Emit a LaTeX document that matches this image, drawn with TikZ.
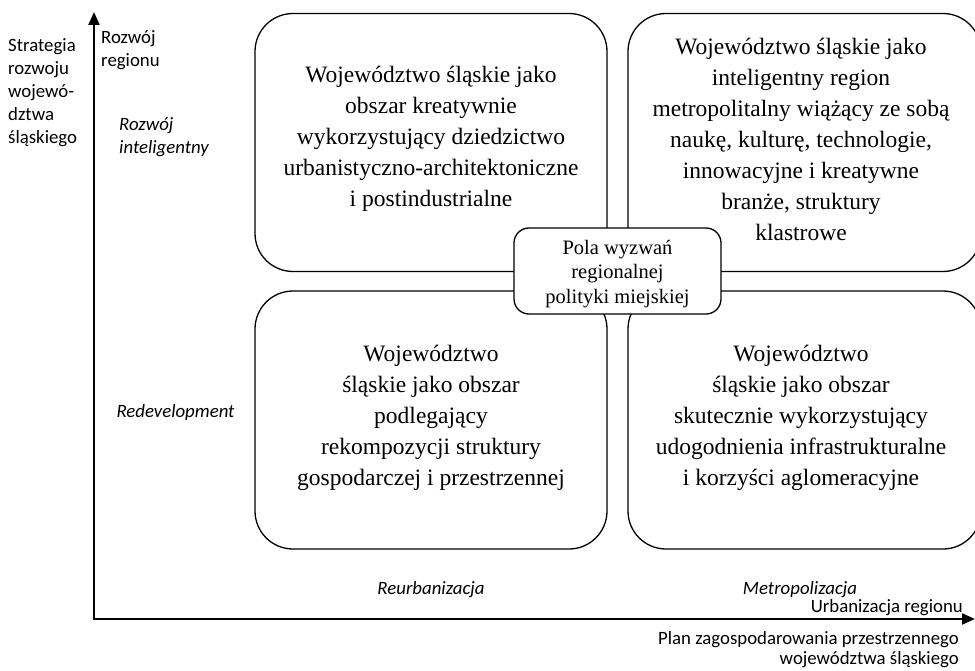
\documentclass[tikz,border=0pt]{standalone}
\usepackage{fontspec}
\setmainfont{Liberation Serif}
\newfontfamily\calfont{Carlito}
\usetikzlibrary{arrows.meta}
\begin{document}
\begin{tikzpicture}[x=1pt,y=-1pt,
  bigbox/.style={draw, line width=1.3pt, rounded corners=38pt, minimum width=352pt, minimum height=258pt, inner sep=0pt},
  boxtext/.style={align=center, font=\fontsize{23.5}{31}\selectfont, inner sep=0pt},
  midbox/.style={draw, fill=white, line width=1.3pt, rounded corners=15pt, minimum width=207pt, minimum height=86pt, inner sep=0pt},
  midtext/.style={align=center, inner sep=0pt, font=\fontsize{20.5}{24.5}\selectfont},
  sans/.style={font=\calfont\fontsize{18.8}{23}\selectfont, inner sep=0pt},
  sansit/.style={font=\calfont\itshape\fontsize{18.8}{23}\selectfont, inner sep=0pt},
  axis/.style={line width=2.2pt, {Triangle[length=13pt,width=11pt]}-{Triangle[length=13pt,width=11pt]}}]
\useasboundingbox (0,0) rectangle (975,671);
\begin{scope}
\clip (0,0) rectangle (975,671);
\node[bigbox] (tl) at (431,142.5) {};
\node[bigbox, minimum width=353pt] (tr) at (804.5,142.5) {};
\node[bigbox] (bl) at (431,420) {};
\node[bigbox, minimum width=353pt] (br) at (804.5,420) {};
\end{scope}
\node[midbox] (mid) at (617.5,271) {};
\node[midtext] (midtxt) at (617.5,274) {Pola wyzwań\\regionalnej\\polityki miejskiej};

\node[boxtext] (tltext) at (431,139) {Województwo śląskie jako\\obszar kreatywnie\\wykorzystujący dziedzictwo\\urbanistyczno-architektoniczne\\i postindustrialne};
\node[boxtext] (trtext) at (801,139.5) {Województwo śląskie jako\\inteligentny region\\metropolitalny wiążący ze sobą\\naukę, kulturę, technologie,\\innowacyjne i kreatywne\\branże, struktury\\klastrowe};
\node[boxtext] (bltext) at (431,418) {Województwo\\śląskie jako obszar\\podlegający\\rekompozycji struktury\\gospodarczej i przestrzennej};
\node[boxtext] (brtext) at (801,418) {Województwo\\śląskie jako obszar\\skutecznie wykorzystujący\\udogodnienia infrastrukturalne\\i korzyści aglomeracyjne};

\coordinate (origin) at (94,619);
\coordinate (ytip) at (94,12);
\coordinate (xtip) at (975,619);
\draw[axis] (ytip) -- (origin) -- (xtip);

\node[sans, align=left, anchor=north west] (strat) at (8,38.5) {Strategia\\rozwoju\\wojewó-\\dztwa\\śląskiego};
\node[sans, align=left, anchor=north west] (rozreg) at (101,30) {Rozwój\\regionu};
\node[sansit, align=left, anchor=north west] (intel) at (119,117) {Rozwój\\inteligentny};
\node[sansit] (redev) at (175.5,412) {Redevelopment};
\node[sansit, anchor=base] (reurb) at (431,594) {Reurbanizacja};
\node[sansit, anchor=base] (metro) at (800,594) {Metropolizacja};
\node[sans, anchor=base east] (urb) at (963,612.5) {Urbanizacja regionu};
\node[sans, align=right, anchor=north east, font=\calfont\fontsize{18.8}{20.5}\selectfont] (plan) at (959,631) {Plan zagospodarowania przestrzennego\\województwa śląskiego};
\end{tikzpicture}
\end{document}
